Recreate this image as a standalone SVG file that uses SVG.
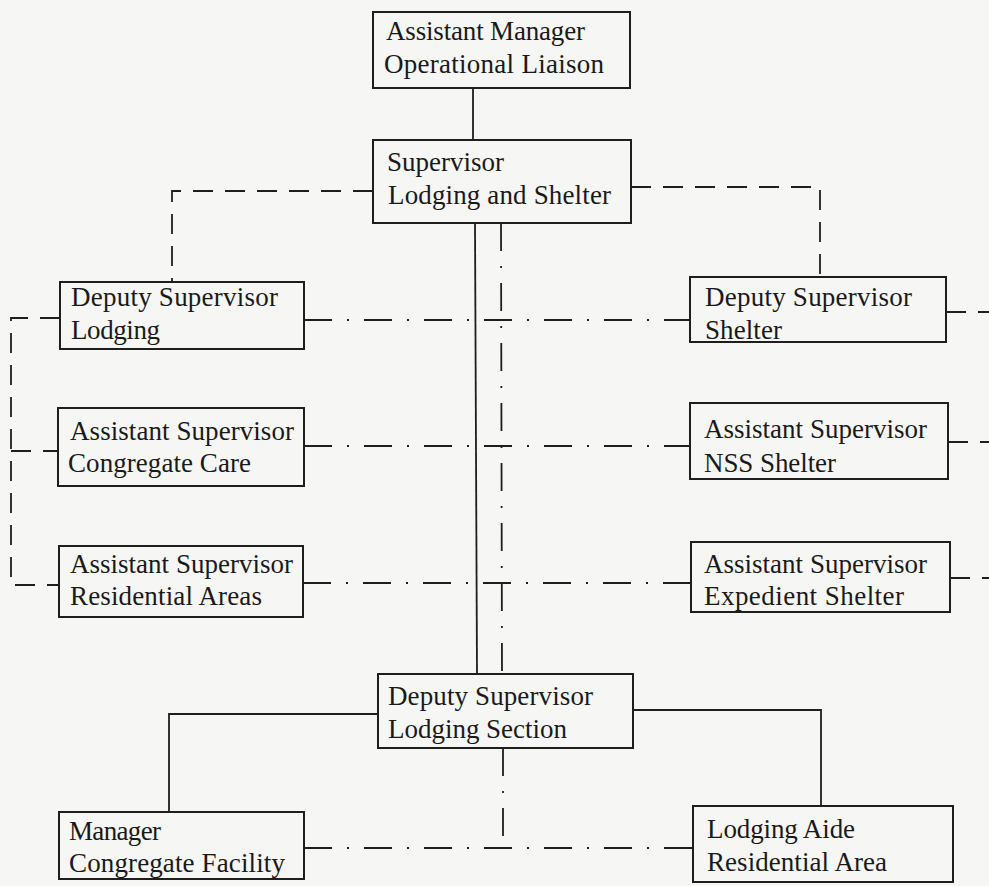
<svg xmlns="http://www.w3.org/2000/svg" width="989" height="886" viewBox="0 0 989 886">
<style>
.bg{fill:#f6f6f4}
.box{fill:none;stroke:#1e1e1e;stroke-width:2}
.t{font-family:"Liberation Serif","Times New Roman",serif;font-size:27px;fill:#1a1a1a}
.solid{fill:none;stroke:#1e1e1e;stroke-width:1.8}
.dash{fill:none;stroke:#1e1e1e;stroke-width:1.8;stroke-dasharray:20 12}
.dd{fill:none;stroke:#1e1e1e;stroke-width:1.8;stroke-dasharray:28 15 2 15}
</style>
<rect class="bg" x="0" y="0" width="989" height="886"/>
<g id="connectors">
<path class="solid" d="M473,88 V140"/>
<path class="solid" d="M475,223 L477,674"/>
<path class="dd" d="M501,223 L502,674"/>
<path class="dash" d="M373,191 H172 V282"/>
<path class="dash" d="M631,187 H820 V277"/>
<path class="dash" d="M60,318 H11 V585 H59"/>
<path class="dash" d="M11,451 H58"/>
<path class="dd" d="M304,320 H690"/>
<path class="dd" d="M304,446 H690"/>
<path class="dd" d="M303,583 H691"/>
<path class="dash" d="M946,312 H989"/>
<path class="dash" d="M948,442 H989"/>
<path class="dash" d="M950,578 H989"/>
<path class="solid" d="M378,714 H169 V812"/>
<path class="solid" d="M633,710 H821 V806"/>
<path class="dd" d="M503,748 V848"/>
<path class="dd" d="M304,848 H693"/>
</g>
<g id="n1"><rect class="box" x="373" y="12" width="257" height="76"/>
<text class="t" x="386" y="40" textLength="199">Assistant Manager</text>
<text class="t" x="384" y="73" textLength="220">Operational Liaison</text></g>
<g id="n2"><rect class="box" x="373" y="140" width="258" height="83"/>
<text class="t" x="387" y="171" textLength="117">Supervisor</text>
<text class="t" x="388" y="204" textLength="223">Lodging and Shelter</text></g>
<g id="n3"><rect class="box" x="60" y="282" width="244" height="67"/>
<text class="t" x="71" y="306" textLength="207">Deputy Supervisor</text>
<text class="t" x="71" y="339" textLength="89">Lodging</text></g>
<g id="n4"><rect class="box" x="58" y="408" width="246" height="78"/>
<text class="t" x="70" y="440" textLength="224">Assistant Supervisor</text>
<text class="t" x="68" y="472" textLength="183">Congregate Care</text></g>
<g id="n5"><rect class="box" x="59" y="546" width="244" height="71"/>
<text class="t" x="70" y="573" textLength="223">Assistant Supervisor</text>
<text class="t" x="70" y="605" textLength="192">Residential Areas</text></g>
<g id="n6"><rect class="box" x="690" y="277" width="256" height="65"/>
<text class="t" x="705" y="306" textLength="207">Deputy Supervisor</text>
<text class="t" x="705" y="339" textLength="77">Shelter</text></g>
<g id="n7"><rect class="box" x="690" y="403" width="258" height="76"/>
<text class="t" x="704" y="438" textLength="223">Assistant Supervisor</text>
<text class="t" x="704" y="472" textLength="132">NSS Shelter</text></g>
<g id="n8"><rect class="box" x="691" y="542" width="259" height="70"/>
<text class="t" x="704" y="573" textLength="223">Assistant Supervisor</text>
<text class="t" x="704" y="605" textLength="200">Expedient Shelter</text></g>
<g id="n9"><rect class="box" x="378" y="674" width="255" height="74"/>
<text class="t" x="388" y="705" textLength="205">Deputy Supervisor</text>
<text class="t" x="388" y="738" textLength="179">Lodging Section</text></g>
<g id="n10"><rect class="box" x="59" y="812" width="245" height="67"/>
<text class="t" x="69" y="840" textLength="92">Manager</text>
<text class="t" x="69" y="872" textLength="216">Congregate Facility</text></g>
<g id="n11"><rect class="box" x="693" y="806" width="260" height="76"/>
<text class="t" x="707" y="838" textLength="148">Lodging Aide</text>
<text class="t" x="707" y="871" textLength="180">Residential Area</text></g>
</svg>
